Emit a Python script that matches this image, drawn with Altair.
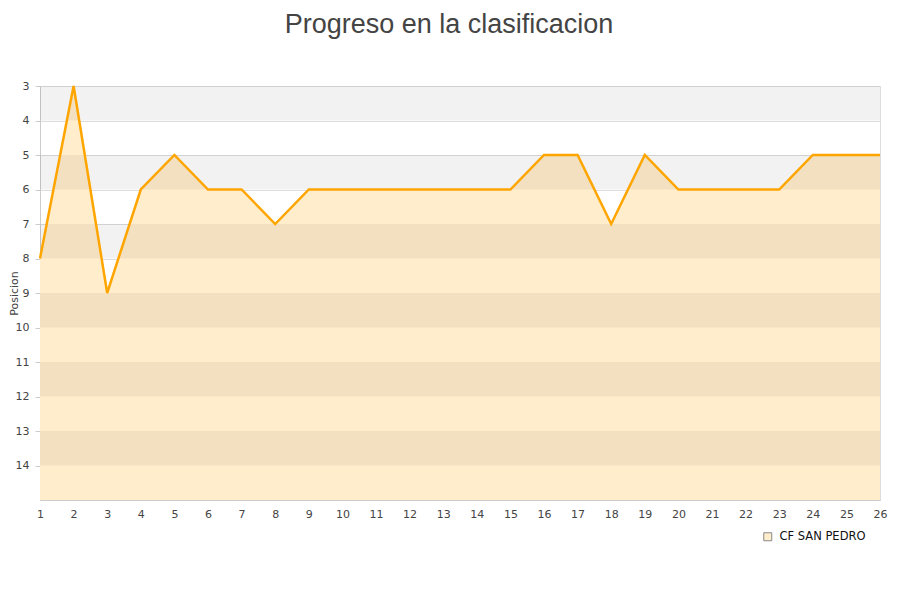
import altair as alt
import pandas as pd

jornadas = list(range(1, 27))
posiciones = [8, 3, 9, 6, 5, 6, 6, 7, 6, 6, 6, 6, 6, 6, 6, 5, 5, 7, 5, 6, 6, 6, 6, 5, 5, 5]
equipo = "CF SAN PEDRO"
band_start = [3, 5, 7, 9, 11, 13]
band_end = [4, 6, 8, 10, 12, 14]

df = pd.DataFrame({"jornada": jornadas, "pos": posiciones, "equipo": [equipo] * len(jornadas)})
bands = pd.DataFrame({"y0": band_start, "y1": band_end})

xs = alt.Scale(domain=[1, 26], nice=False, zero=False)
ys = alt.Scale(domain=[3, 15], reverse=True, nice=False, zero=False)

x_axis = alt.Axis(values=jornadas, title=None, grid=False, ticks=False,
                  labelFontSize=11, labelColor="#444", labelPadding=8,
                  labelOverlap=False, labelFlush=False, format="d",
                  domainColor="#ccc", labelFont="DejaVu Sans")
y_axis = alt.Axis(values=list(range(3, 15)), title="Posicion", grid=True,
                  gridColor="#ddd", tickColor="#ccc", tickSize=5,
                  labelOverlap=False, labelFlush=False, format="d",
                  labelFontSize=11, labelColor="#444", labelPadding=6,
                  titleFontSize=11, titleColor="#444", titleFontWeight="normal",
                  titleFont="DejaVu Sans", labelFont="DejaVu Sans",
                  domainColor="#ccc", titleX=-21, titleY=207, titleAngle=270,
                  titleBaseline="bottom", titleAlign="center")

X = alt.X("jornada:Q", scale=xs, axis=x_axis)
Y = alt.Y("pos:Q", scale=ys, axis=y_axis)

area = alt.Chart(df).mark_area(opacity=1).encode(
    x=X,
    y=Y,
    y2=alt.datum(15),
    fill=alt.Fill("equipo:N", scale=alt.Scale(range=["#FFEDCC"]),
                  legend=alt.Legend(title=None, orient="none", legendX=722, legendY=445,
                                    symbolType="square", symbolSize=64, labelOffset=6,
                                    symbolStrokeColor="#888", symbolStrokeWidth=1,
                                    labelFontSize=11.5, labelColor="#111",
                                    labelFont="DejaVu Sans")),
)

band = alt.Chart(bands).mark_rect(color="black", opacity=0.05).encode(
    y=alt.Y("y0:Q", scale=ys, axis=y_axis),
    y2="y1:Q",
    x=alt.value(0),
    x2=alt.value(840),
)

line = alt.Chart(df).mark_line(color="#FFA500", strokeWidth=2.5).encode(
    x=X,
    y=Y,
)

chart = alt.layer(area, band, line).properties(
    width=840, height=414,
    autosize=alt.AutoSizeParams(type="none"),
    padding={"left": 32, "top": 78, "right": 8, "bottom": 80},
    title=alt.TitleParams("Progreso en la clasificacion", fontSize=27, color="#444",
                          font="Liberation Sans", fontWeight="normal",
                          anchor="middle", dx=-11, offset=41),
).configure_view(stroke="#ddd")

chart.save("out.html", embed_options={"renderer": "svg", "actions": False})
